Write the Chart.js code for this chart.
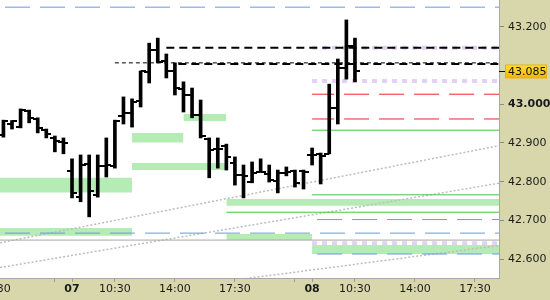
<!DOCTYPE html>
<html><head><meta charset="utf-8">
<script src="https://cdn.jsdelivr.net/npm/chart.js@4.4.1/dist/chart.umd.min.js"></script>
<style>html,body{margin:0;padding:0;background:#fff;overflow:hidden}</style>
</head><body>
<canvas id="c" width="550" height="300"></canvas>
<script>
// Time axis in session hours: 0 = day 07 08:00, 14 = day 08 08:00 (session 08:00-22:00)
const barTimes = [-4,-3.5,-3,-2.5,-2,-1.5,-1,-0.5,
  0,0.5,1,1.5,2,2.5,3,3.5,4,4.5,5,5.5,6,6.5,7,7.5,8,8.5,9,9.5,10,10.5,11,11.5,12,12.5,13,13.5,
  14,14.5,15,15.5,16,16.5];
const opens  = [42.921,42.949,42.941,42.983,42.962,42.934,42.913,42.903,
  42.828,42.760,42.846,42.766,42.841,42.841,42.970,42.977,43.009,43.083,43.140,43.112,43.086,43.040,43.024,42.972,42.910,42.884,42.892,42.848,42.817,42.799,42.825,42.820,42.802,42.822,42.828,42.828,
  42.869,42.872,42.872,42.990,43.094,43.151];
const highs  = [42.959,42.958,42.988,42.985,42.965,42.936,42.918,42.913,
  42.859,42.869,42.869,42.869,42.913,42.959,43.019,43.014,43.086,43.158,43.171,43.130,43.107,43.058,43.042,43.011,42.913,42.913,42.897,42.864,42.843,42.851,42.859,42.843,42.830,42.838,42.830,42.830,
  42.887,42.874,43.052,43.117,43.218,43.171];
const lows   = [42.915,42.936,42.939,42.952,42.926,42.913,42.877,42.872,
  42.758,42.748,42.709,42.760,42.812,42.835,42.949,42.941,42.993,43.055,43.107,43.068,43.024,42.980,42.965,42.913,42.810,42.835,42.830,42.791,42.758,42.797,42.825,42.799,42.771,42.815,42.786,42.781,
  42.843,42.794,42.872,42.949,43.065,43.058];
const closes = [42.957,42.957,42.985,42.965,42.939,42.923,42.905,42.900,
  42.771,42.843,42.776,42.841,42.843,42.957,42.977,43.006,43.086,43.140,43.109,43.086,43.042,43.024,42.972,42.918,42.882,42.884,42.864,42.817,42.815,42.822,42.825,42.804,42.822,42.825,42.797,42.825,
  42.869,42.866,42.990,43.094,43.151,43.085];

// horizontal levels
const levelValues = [43.251,43.146,43.107,43.104,43.146,43.060,43.026,42.962,42.933,42.766,42.721,42.702,42.667,42.649,42.641,42.613];
const levelFrom   = [-4.2,5.5,2.5,6.2,14,14,14,14,14,14,9,14,-4.2,-4.2,14,14];
const levelKinds  = ['blue','blackThick','blackThin','blackThick','lav','lav','red','red','green','green','green','blue','blue','gray','lav','blue'];

// support zones
const zoneTop    = [42.810,42.680,42.926,42.975,42.848,42.755,42.665,42.636];
const zoneBottom = [42.772,42.660,42.901,42.957,42.830,42.738,42.649,42.613];
const zoneFrom   = [-4.2,-4.2,3.5,6.5,3.5,9,9,14];
const zoneTo     = [3.5,3.5,6.5,9,9,24.9,14,24.9];

// dotted trend lines
const trendFromT = [-4.2,-4.2,9.2];
const trendFromV = [42.642,42.578,42.544];
const trendToT   = [24.9,24.9,24.9];
const trendToV   = [42.893,42.796,42.635];

// axis ticks
const xTickValues = [-1,0,2.5,6,9.5,13,14,16.5,20,23.5];
const xTickLabels = ['','07','10:30','14:00','17:30','','08','10:30','14:00','17:30'];
const xDayTicks = [0,14];
const xEdgeTickValue = -4.5, xEdgeTickLabel = '17:30';
const yTickValues = [42.6,42.7,42.8,42.9,43.0,43.2];
const X_MIN = -4.2, X_MAX = 24.9, Y_MIN = 42.551, Y_MAX = 43.2695;

const lastPrice = closes[closes.length-1];

const FONT = 'DejaVu Sans';
const BEIGE = '#D8D7AB';

const levelStyles = {
  blue:{color:'#6A96E8',width:1,dash:[25,10],offset:30},
  blackThick:{color:'#000',width:2,dash:[8,5],offset:0},
  blackThin:{color:'#000',width:1,dash:[4,3],offset:0},
  lav:{color:'#E3D0F2',width:4,dash:[5,5],offset:0},
  red:{color:'#E82828',width:1,dash:[25,10],offset:3},
  green:{color:'#44C444',width:1,dash:[],offset:0},
  gray:{color:'#A8A8A8',width:1,dash:[],offset:0}
};
const levelOrder = {lav:8,blue:6,red:6,green:6,gray:6,blackThin:5,blackThick:4};

function tickCanvas(side){
  const c = document.createElement('canvas');
  c.width = 10; c.height = 2;
  const g = c.getContext('2d');
  g.fillStyle = '#000';
  if (side === 'open') g.fillRect(0,0,5,2); else g.fillRect(5,0,5,2);
  return c;
}

const datasets = [];
zoneTop.forEach((top,i)=>{
  datasets.push({type:'line', data:[{x:zoneFrom[i],y:top},{x:zoneTo[i],y:top}],
    borderWidth:0, borderColor:'rgba(0,0,0,0)', backgroundColor:'#B5EBB5',
    fill:{value:zoneBottom[i]}, pointRadius:0, order:20});
});
levelValues.forEach((v,i)=>{
  const s = levelStyles[levelKinds[i]];
  datasets.push({type:'line', data:[{x:levelFrom[i],y:v},{x:X_MAX,y:v}],
    borderColor:s.color, borderWidth:s.width, borderDash:s.dash, borderDashOffset:s.offset,
    fill:false, pointRadius:0, order:levelOrder[levelKinds[i]], borderCapStyle:'butt'});
});
trendFromT.forEach((t,i)=>{
  datasets.push({type:'line', data:[{x:t,y:trendFromV[i]},{x:trendToT[i],y:trendToV[i]}],
    borderColor:'#BDBDBD', borderWidth:1.5, borderDash:[2,2], fill:false, pointRadius:0, order:7});
});
datasets.push({type:'bar', data:barTimes.map((t,i)=>({x:t,y:[lows[i],highs[i]]})),
  backgroundColor:'#000', borderWidth:0, barThickness:3, order:2});
datasets.push({type:'scatter', data:barTimes.map((t,i)=>({x:t,y:opens[i]})),
  pointStyle:tickCanvas('open'), pointRadius:3, order:1});
datasets.push({type:'scatter', data:barTimes.map((t,i)=>({x:t,y:closes[i]})),
  pointStyle:tickCanvas('close'), pointRadius:3, order:1});

const bgPlugin = {
  id:'bg',
  beforeDraw(chart){
    const {ctx, chartArea:a} = chart;
    ctx.save();
    ctx.fillStyle = BEIGE; ctx.fillRect(0,0,chart.width,chart.height);
    ctx.fillStyle = '#fff'; ctx.fillRect(a.left,a.top,a.right-a.left,a.bottom-a.top);
    ctx.restore();
  },
  afterDraw(chart){
    const {ctx, chartArea:a} = chart;
    const xs = chart.scales.x, ys = chart.scales.y;
    ctx.save();
    // partial edge label
    ctx.font = '11px "'+FONT+'"'; ctx.fillStyle = '#1a1a1a';
    ctx.textAlign = 'center'; ctx.textBaseline = 'middle';
    ctx.fillText(xEdgeTickLabel, xs.getPixelForValue(xEdgeTickValue), a.bottom + 11);
    // current price label
    const y = Math.round(ys.getPixelForValue(lastPrice)) + 0.5;
    ctx.strokeStyle = '#000'; ctx.lineWidth = 1;
    ctx.beginPath(); ctx.moveTo(a.right, y); ctx.lineTo(a.right+6, y); ctx.stroke();
    const gx = a.right+6, gw = 42, gy = y-6.5, gh = 13;
    const grad = ctx.createLinearGradient(0,gy,0,gy+gh);
    grad.addColorStop(0,'#FFE03A'); grad.addColorStop(1,'#F2B400');
    ctx.fillStyle = grad; ctx.fillRect(gx,gy,gw,gh);
    ctx.strokeStyle = '#E4B020'; ctx.strokeRect(gx+0.5,gy,gw-1,gh);
    ctx.fillStyle = '#111'; ctx.textAlign = 'left';
    ctx.fillText(lastPrice.toFixed(3), a.right+9, y+0.5);
    ctx.restore();
  }
};

new Chart(document.getElementById('c'), {
  type:'bar',
  data:{datasets},
  options:{
    responsive:false, animation:false, events:[],
    layout:{padding:0, autoPadding:false},
    plugins:{legend:{display:false}, tooltip:{enabled:false}},
    scales:{
      x:{type:'linear', min:X_MIN, max:X_MAX, offset:false,
        afterBuildTicks(s){ s.ticks = xTickValues.map(v=>({value:v})); },
        afterFit(s){ s.height = 22; s.paddingLeft = 0; s.paddingRight = 0; s.paddingTop = 0; s.paddingBottom = 0; },
        grid:{display:true, drawOnChartArea:false, offset:false, tickLength:4, tickColor:'#9A9A9A'},
        border:{display:true, color:'#A8A8A8'},
        ticks:{autoSkip:false, maxRotation:0, padding:1, color:'#1a1a1a',
          callback(v){ const i = xTickValues.indexOf(v); return i>=0 ? xTickLabels[i] : ''; },
          font(ctx){ return {family:FONT, size:11, weight: (ctx.tick && xDayTicks.includes(ctx.tick.value)) ? 'bold' : 'normal'}; }
        }
      },
      y:{type:'linear', position:'right', min:Y_MIN, max:Y_MAX,
        afterBuildTicks(s){ s.ticks = yTickValues.map(v=>({value:v})); },
        afterFit(s){ s.width = 51; s.paddingLeft = 0; s.paddingRight = 0; s.paddingTop = 0; s.paddingBottom = 0; },
        grid:{display:true, drawOnChartArea:false, tickLength:5, tickColor:'#8A8A8A'},
        border:{display:true, color:'#A8A8A8'},
        ticks:{padding:4, color:'#1a1a1a',
          callback(v){ return Number(v).toFixed(3); },
          font(ctx){ return {family:FONT, size:11, weight: (ctx.tick && Math.abs(ctx.tick.value-43)<1e-9) ? 'bold' : 'normal'}; }
        }
      }
    }
  },
  plugins:[bgPlugin]
});
</script>
</body></html>
